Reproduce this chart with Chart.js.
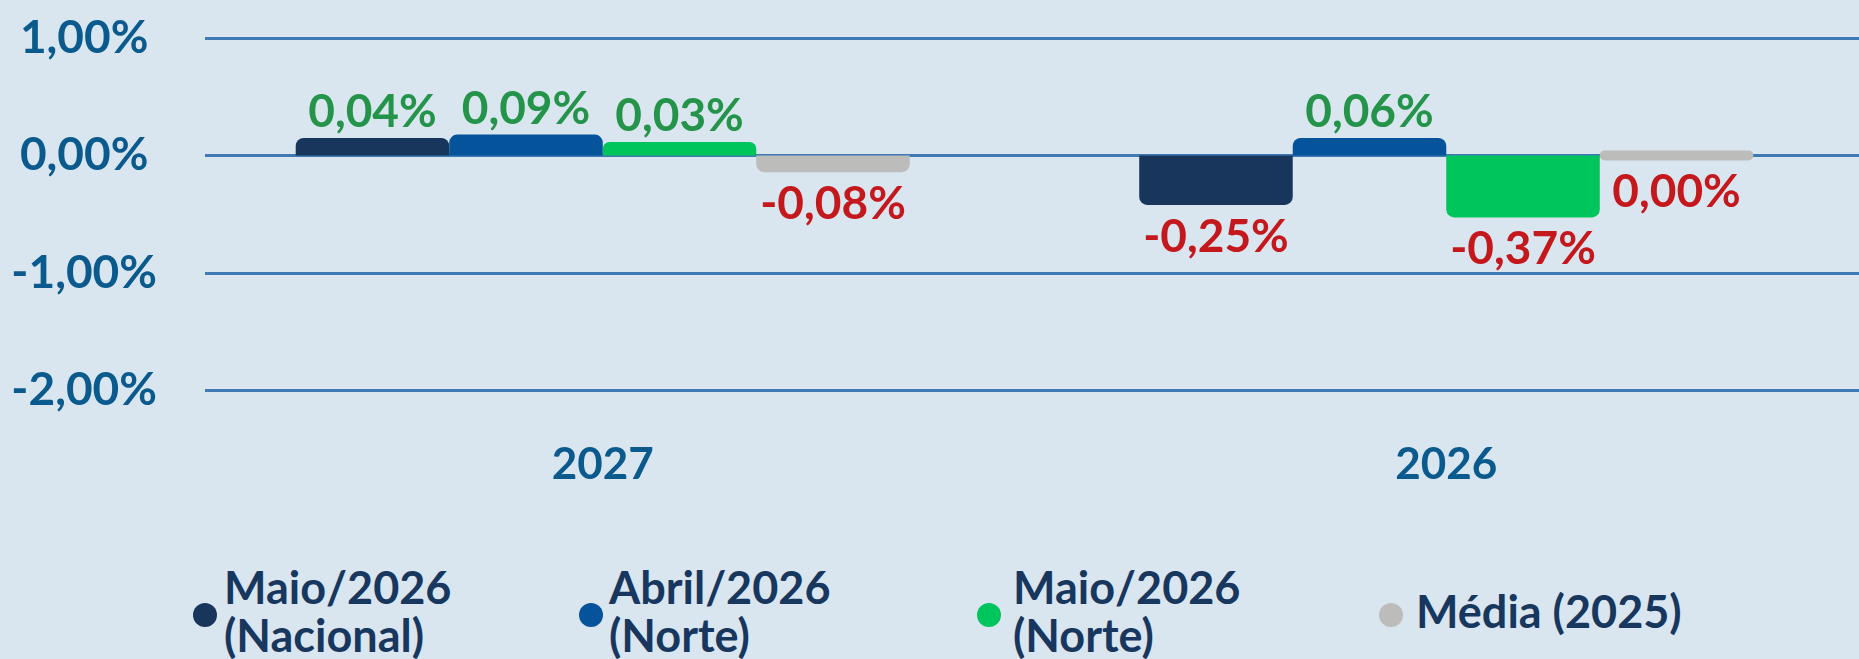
<!DOCTYPE html>
<html lang="pt">
<head>
<meta charset="utf-8">
<title>Projeções 2026 / 2027</title>
<script src="https://cdn.jsdelivr.net/npm/chart.js@4.4.1/dist/chart.umd.min.js"></script>
<style>
  html, body { margin: 0; padding: 0; background: #d9e5ef; overflow: hidden; }
  body { width: 1859px; height: 659px; position: relative; }
  #wrap { position: absolute; left: 0; top: 0; width: 1868px; height: 539px; }
  .item { position: absolute; display: flex; align-items: center; transform: translateY(-50%);
          font: 700 45px/48px Lato, sans-serif; color: #17375e; white-space: nowrap; }
  .item .dot { width: 24px; height: 24px; border-radius: 50%; flex: none; transform: translateY(4px); }
</style>
</head>
<body>
<div id="wrap"><canvas id="grafico"></canvas></div>
<div id="legenda"></div>
<script>
// categorias e séries
const anos = ['2027', '2026'];
const series = [['Maio/2026', '(Nacional)'], ['Abril/2026', '(Norte)'], ['Maio/2026', '(Norte)'], ['Média (2025)']];

// comprimento das barras como desenhadas (em p.p.)
const maioNacional = [0.148, -0.422];
const abrilNorte = [0.177, 0.148];
const maioNorte = [0.114, -0.528];
const media2025 = [-0.143, 0];

// valores impressos sobre as barras
const rotMaioNacional = [0.04, -0.25];
const rotAbrilNorte = [0.09, 0.06];
const rotMaioNorte = [0.03, -0.37];
const rotMedia2025 = [-0.08, 0.00];

// marcas do eixo y
const ticksY = [1, 0, -1, -2];

const cores = ['#18365c', '#05539a', '#00c55c', '#bcbcba'];
const valores = [maioNacional, abrilNorte, maioNorte, media2025];
const rotulos = [rotMaioNacional, rotAbrilNorte, rotMaioNorte, rotMedia2025];

const fonteY = { family: 'Lato', size: 46, weight: '700' };
const fonteX = { family: 'Lato', size: 44, weight: '700' };
const pct = v => v.toFixed(2).replace('.', ',') + '%';

const linhas = {
  id: 'linhas',
  beforeDatasetsDraw(chart) {
    const { ctx, chartArea, scales: { y } } = chart;
    ctx.save();
    ctx.strokeStyle = '#3f7bb2';
    ctx.lineWidth = 3;
    ticksY.forEach(t => {
      const py = Math.round(y.getPixelForValue(t)) + 0.5;
      ctx.beginPath();
      ctx.moveTo(chartArea.left + 24, py);
      ctx.lineTo(chartArea.right, py);
      ctx.stroke();
    });
    ctx.restore();
  }
};

const etiquetas = {
  id: 'etiquetas',
  afterDatasetsDraw(chart) {
    const ctx = chart.ctx;
    ctx.save();
    ctx.font = '700 46px Lato';
    ctx.textAlign = 'center';
    ctx.textBaseline = 'alphabetic';
    chart.data.datasets.forEach((ds, i) => {
      chart.getDatasetMeta(i).data.forEach((bar, j) => {
        const v = rotulos[i][j];
        const topo = Math.min(bar.y, bar.base);
        const fundo = Math.max(bar.y, bar.base);
        if (v > 0) {
          ctx.fillStyle = '#24944b';
          ctx.fillText(pct(v), bar.x, topo - 11);
        } else {
          ctx.fillStyle = '#c4181d';
          ctx.fillText(pct(v), bar.x, fundo + 47);
        }
      });
    });
    ctx.restore();
  }
};

new Chart(document.getElementById('grafico'), {
  type: 'bar',
  data: {
    labels: anos,
    datasets: valores.map((d, i) => ({
      label: series[i].join(' '),
      data: d,
      backgroundColor: cores[i],
      borderWidth: 0,
      borderRadius: 8,
      borderSkipped: c => c.raw === 0 ? false : 'start',
      minBarLength: i === 3 ? 10 : 0,
      barPercentage: 1,
      categoryPercentage: 0.728
    }))
  },
  options: {
    responsive: true,
    maintainAspectRatio: false,
    animation: false,
    layout: { padding: { top: 38, left: 0, right: 0, bottom: 0 } },
    plugins: { legend: { display: false }, tooltip: { enabled: false } },
    scales: {
      x: {
        grid: { display: false, drawTicks: false },
        border: { display: false },
        ticks: { font: fonteX, color: '#0b5a8d', padding: 48 }
      },
      y: {
        min: -2,
        max: 1,
        afterFit: s => { s.width = 181; s.paddingTop = 0; s.paddingBottom = 0; },
        afterBuildTicks: s => { s.ticks = ticksY.map(v => ({ value: v })); },
        grid: { display: false, drawTicks: false },
        border: { display: false },
        ticks: { font: fonteY, color: '#0b5a8d', padding: 24, crossAlign: 'center', callback: v => pct(v) }
      }
    }
  },
  plugins: [linhas, etiquetas]
});

// legenda
const posLegenda = [{ dot: 193, texto: 224 }, { dot: 579, texto: 609 }, { dot: 977, texto: 1013 }, { dot: 1379, texto: 1416 }];
const legenda = document.getElementById('legenda');
series.forEach((nome, i) => {
  const item = document.createElement('div');
  item.className = 'item';
  item.style.left = posLegenda[i].dot + 'px';
  item.style.top = '611px';
  const dot = document.createElement('span');
  dot.className = 'dot';
  dot.style.background = cores[i];
  const txt = document.createElement('span');
  txt.style.marginLeft = (posLegenda[i].texto - posLegenda[i].dot - 24) + 'px';
  txt.innerHTML = nome.join('<br>');
  item.appendChild(dot);
  item.appendChild(txt);
  legenda.appendChild(item);
});
</script>
</body>
</html>
